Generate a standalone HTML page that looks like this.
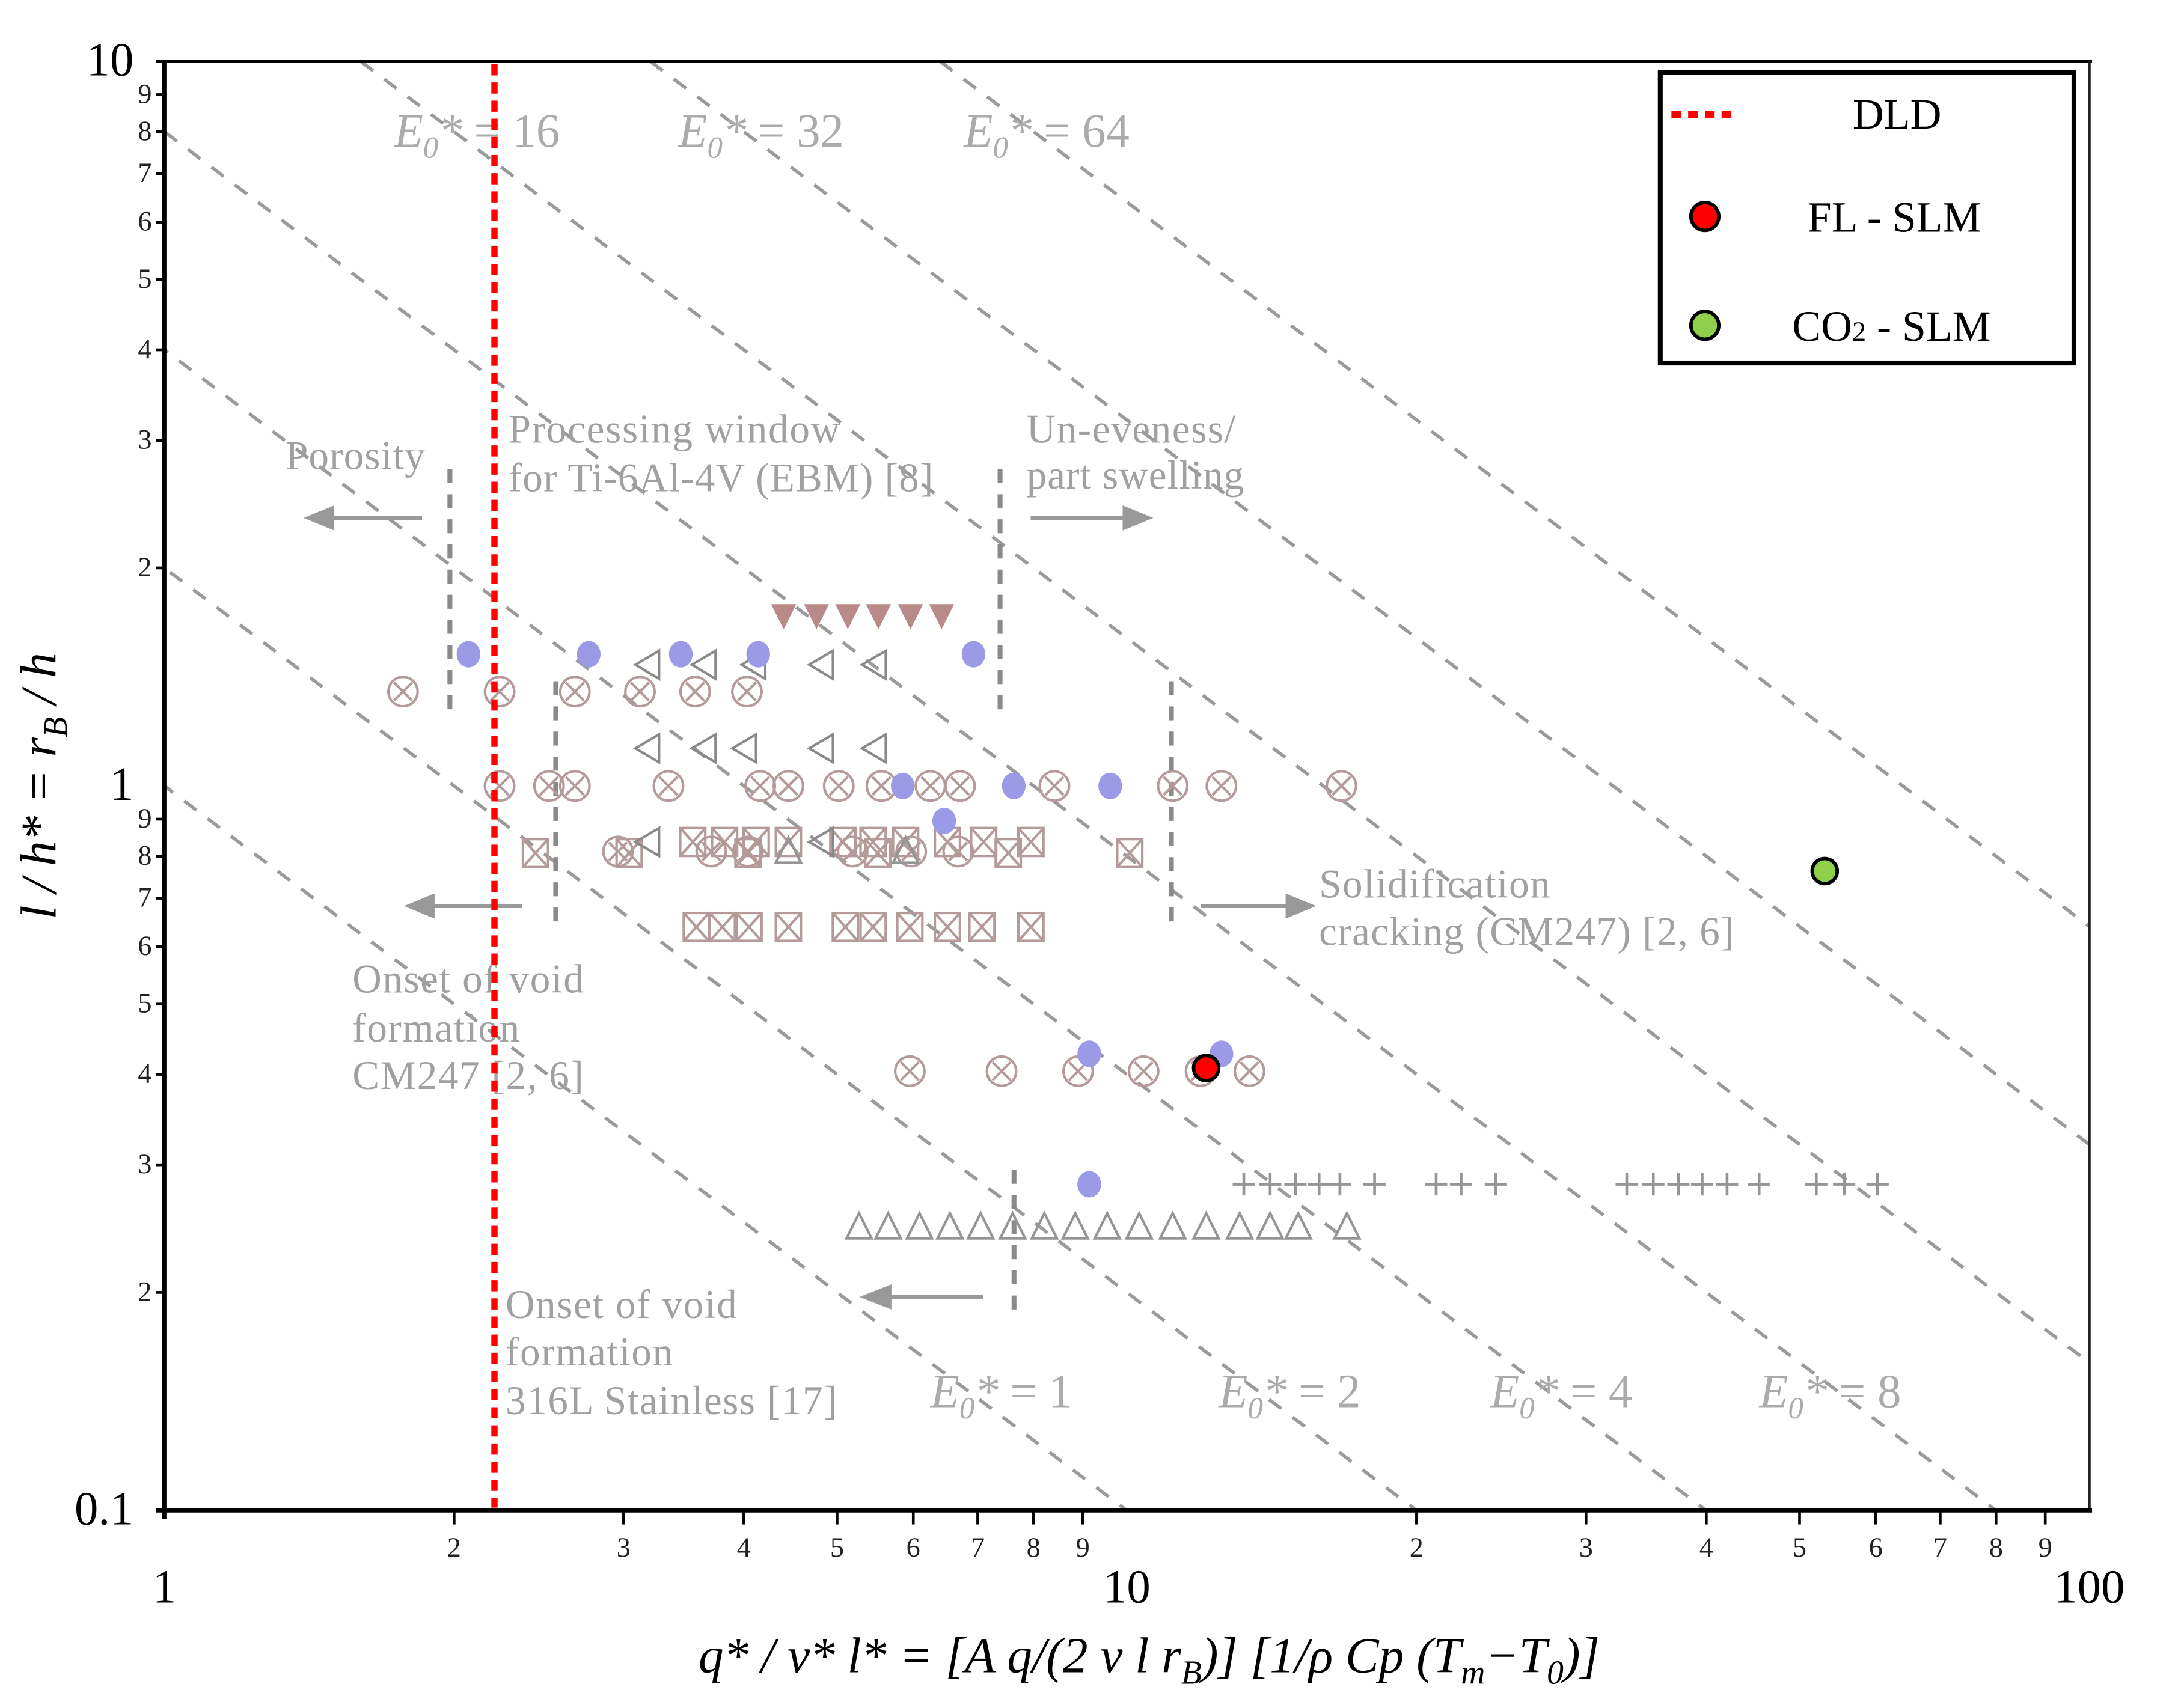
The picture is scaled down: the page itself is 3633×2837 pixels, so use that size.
<!DOCTYPE html>
<html><head><meta charset="utf-8"><style>
html,body{margin:0;padding:0;background:#fff;overflow:hidden;width:3633px;height:2837px;}
svg{display:block;}
</style></head><body>
<svg id="chart" xmlns="http://www.w3.org/2000/svg" width="3633" height="2837" viewBox="0 1.95 1568 1221.4" preserveAspectRatio="none" font-family="Liberation Serif, serif">
<rect x="0" y="2" width="1568" height="1221" fill="#fff"/>
<defs><clipPath id="plotclip"><rect x="118" y="46" width="1382" height="1038"/></clipPath></defs>
<g id="iso" clip-path="url(#plotclip)"></g>
<g id="annot" fill="#a0a0a0" font-size="29">
<text x="205" y="338" textLength="100">Porosity</text>
<text x="365" y="319" textLength="238">Processing window</text>
<text x="365" y="354" textLength="305">for Ti-6Al-4V (EBM) [8]</text>
<text x="737" y="319" textLength="150">Un-eveness/</text>
<text x="737" y="352" textLength="156">part swelling</text>
<text x="947" y="645" textLength="166">Solidification</text>
<text x="947" y="679" textLength="298">cracking (CM247) [2, 6]</text>
<text x="253" y="713" textLength="166">Onset of void</text>
<text x="253" y="748" textLength="120">formation</text>
<text x="253" y="782" textLength="166">CM247 [2, 6]</text>
<text x="363" y="946" textLength="166">Onset of void</text>
<text x="363" y="980" textLength="120">formation</text>
<text x="363" y="1015" textLength="238">316L Stainless [17]</text>
<g stroke="#8a8a8a" stroke-width="3.5" stroke-dasharray="10 8">
<line x1="323" y1="338" x2="323" y2="512"/><line x1="399" y1="490" x2="399" y2="665"/>
<line x1="718" y1="338" x2="718" y2="512"/><line x1="841" y1="490" x2="841" y2="665"/>
<line x1="728" y1="840" x2="728" y2="945"/>
</g>
<g stroke="#999" stroke-width="3" fill="#999">
<line x1="303" y1="373" x2="235" y2="373"/><polygon points="218,373 240,364 240,382" stroke="none"/>
<line x1="740" y1="373" x2="810" y2="373"/><polygon points="828,373 806,364 806,382" stroke="none"/>
<line x1="375" y1="651" x2="305" y2="651"/><polygon points="290,651 312,642 312,660" stroke="none"/>
<line x1="862" y1="651" x2="928" y2="651"/><polygon points="945,651 923,642 923,660" stroke="none"/>
<line x1="706" y1="931" x2="635" y2="931"/><polygon points="617,931 640,922 640,940" stroke="none"/>
</g>
</g>
<g id="elabels" fill="#ababab" font-size="34"></g>
<g id="marks"></g>
<line id="dld" x1="355" y1="48" x2="355" y2="1082" stroke="#ff0000" stroke-width="4.5" stroke-dasharray="8 5"/>
<g id="axes"></g>
<g id="legend">
<rect x="1192" y="54" width="297" height="208" fill="#fff" stroke="#000" stroke-width="3.5"/>
<line x1="1200" y1="84" x2="1246" y2="84" stroke="#ff0000" stroke-width="5" stroke-dasharray="7 5"/>
<text x="1362" y="94" font-size="31" text-anchor="middle">DLD</text>
<circle cx="1224" cy="157" r="10" fill="#ff0000" stroke="#000" stroke-width="2.5"/>
<text x="1360" y="168" font-size="31" text-anchor="middle">FL - SLM</text>
<circle cx="1224" cy="235" r="10" fill="#8fcf4a" stroke="#000" stroke-width="2.5"/>
<text x="1358" y="246" font-size="31" text-anchor="middle">CO<tspan font-size="20">2</tspan> - SLM</text>
</g>
<text x="40" y="565" font-size="36" font-style="italic" text-anchor="middle" transform="rotate(-90 40 565)">l / h* = r<tspan font-size="24" dy="8">B</tspan><tspan dy="-8"> / h</tspan></text>
<text x="825" y="1200" font-size="36" font-style="italic" text-anchor="middle">q* / v* l* = [A q/(2 v l r<tspan font-size="24" dy="8">B</tspan><tspan dy="-8">)] [1/ρ Cp (T</tspan><tspan font-size="24" dy="8">m</tspan><tspan dy="-8">−T</tspan><tspan font-size="24" dy="8">0</tspan><tspan dy="-8">)]</tspan></text>
</svg>
<script>
var isoC = [1, 2, 4, 8, 16, 32, 64];
var eLabelVals = ["16", "32", "64", "1", "2", "4", "8"];
var blueX = [2.07, 2.76, 3.44, 4.14, 6.93, 5.85, 7.63, 9.61, 6.46, 9.14, 12.54, 9.14];
var blueY = [1.52, 1.52, 1.52, 1.52, 1.52, 1.0, 1.0, 1.0, 0.895, 0.427, 0.427, 0.282];
var downTriX = [4.40, 4.76, 5.13, 5.52, 5.96, 6.42];
var downTriY = [1.72, 1.72, 1.72, 1.72, 1.72, 1.72];
var otimesX = [1.77, 2.23, 2.67, 3.12, 3.56, 4.03, 2.23, 2.51, 2.67, 3.34, 4.16, 4.45, 5.02, 5.56, 6.25, 6.71, 8.41, 11.16, 12.54, 16.71, 2.96, 3.70, 4.04, 5.19, 5.97, 6.68, 5.95, 7.41, 8.90, 10.41, 11.93, 13.41];
var otimesY = [1.35, 1.35, 1.35, 1.35, 1.35, 1.35, 1.0, 1.0, 1.0, 1.0, 1.0, 1.0, 1.0, 1.0, 1.0, 1.0, 1.0, 1.0, 1.0, 1.0, 0.812, 0.812, 0.812, 0.812, 0.812, 0.812, 0.404, 0.404, 0.404, 0.404, 0.404, 0.404];
var boxX = [3.54, 3.82, 4.12, 4.45, 5.07, 5.45, 5.89, 6.51, 7.10, 7.95, 2.43, 3.04, 4.04, 5.51, 7.53, 10.07, 3.57, 3.80, 4.05, 4.45, 5.10, 5.45, 5.95, 6.51, 7.07, 7.95];
var boxY = [0.837, 0.837, 0.837, 0.837, 0.837, 0.837, 0.837, 0.837, 0.837, 0.837, 0.808, 0.808, 0.808, 0.808, 0.808, 0.808, 0.639, 0.639, 0.639, 0.639, 0.639, 0.639, 0.639, 0.639, 0.639, 0.639];
var leftTriX = [3.18, 3.64, 4.10, 4.82, 5.47, 3.18, 3.64, 4.01, 4.82, 5.47, 3.18, 4.82];
var leftTriY = [1.47, 1.47, 1.47, 1.47, 1.47, 1.127, 1.127, 1.127, 1.127, 1.127, 0.837, 0.837];
var upTriX = [5.27, 5.65, 6.09, 6.55, 7.05, 7.61, 8.21, 8.84, 9.54, 10.30, 11.16, 12.09, 13.10, 14.09, 15.07, 16.93, 4.45, 5.89];
var upTriY = [0.246, 0.246, 0.246, 0.246, 0.246, 0.246, 0.246, 0.246, 0.246, 0.246, 0.246, 0.246, 0.246, 0.246, 0.246, 0.246, 0.812, 0.812];
var plusX = [13.23, 14.09, 14.97, 15.84, 16.65, 18.09, 20.96, 22.25, 24.18, 33.07, 35.24, 37.42, 39.61, 42.04, 45.39, 52.04, 55.63, 60.26];
var plusY = [0.282, 0.282, 0.282, 0.282, 0.282, 0.282, 0.282, 0.282, 0.282, 0.282, 0.282, 0.282, 0.282, 0.282, 0.282, 0.282, 0.282, 0.282];
var flX = [12.09];
var flY = [0.408];
var co2X = [53.1];
var co2Y = [0.763];
var xMajorTicks = [1, 10, 100];
var xMajorLabels = ["1", "10", "100"];
var yMajorTicks = [0.1, 1, 10];
var yMajorLabels = ["0.1", "1", "10"];
var minorDigits = [2, 3, 4, 5, 6, 7, 8, 9];

var NS = "http://www.w3.org/2000/svg";
function xs(v){ return 118 + 691 * Math.log10(v); }
function ys(v){ return 565 - 519 * Math.log10(v); }
function mk(tag, attrs, parent){ var e = document.createElementNS(NS, tag); for (var k in attrs) e.setAttribute(k, attrs[k]); parent.appendChild(e); return e; }

var iso = document.getElementById('iso');
isoC.forEach(function(c){
  var l = mk('line', {x1: xs(c/10), y1: ys(10), x2: xs(100), y2: ys(c/100), stroke: '#9a9a9a', 'stroke-width': 2.4, 'stroke-dasharray': '11 10'}, iso);
  
  
});
var el = document.getElementById('elabels');
var ePos = [[283,107],[487,107],[692,107],[668,1010],[875,1010],[1070,1010],[1263,1010]];
eLabelVals.forEach(function(v, i){
  var t = mk('text', {x: ePos[i][0], y: ePos[i][1]}, el);
  t.innerHTML = '<tspan font-style="italic">E</tspan><tspan font-size="22" dy="8" font-style="italic">0</tspan><tspan dy="-8" font-style="italic">*</tspan><tspan> = ' + v + '</tspan>';
  
  
});

var m = document.getElementById('marks');
function otimes(x, y){ var g = mk('g', {stroke: '#b59a9a', 'stroke-width': 1.8, fill: 'none'}, m);
  mk('circle', {cx: x, cy: y, r: 10.5}, g); var d = 6.5;
  mk('path', {d: 'M'+(x-d)+' '+(y-d)+'L'+(x+d)+' '+(y+d)+'M'+(x+d)+' '+(y-d)+'L'+(x-d)+' '+(y+d)}, g); return g; }
function boxx(x, y){ var g = mk('g', {stroke: '#b59a9a', 'stroke-width': 1.8, fill: 'none'}, m);
  mk('rect', {x: x-9, y: y-10, width: 18, height: 20}, g);
  mk('path', {d: 'M'+(x-9)+' '+(y-10)+'L'+(x+9)+' '+(y+10)+'M'+(x+9)+' '+(y-10)+'L'+(x-9)+' '+(y+10)}, g); return g; }
otimesX.forEach(function(v, i){ var g = otimes(xs(v), ys(otimesY[i]));
  
   });
boxX.forEach(function(v, i){ var g = boxx(xs(v), ys(boxY[i]));
  
   });
leftTriX.forEach(function(v, i){ var x = xs(v), y = ys(leftTriY[i]);
  var p = mk('polygon', {points: (x-9)+','+y+' '+(x+8)+','+(y-10)+' '+(x+8)+','+(y+10), fill: 'none', stroke: '#8a8a8a', 'stroke-width': 1.8}, m);
  
   });
upTriX.forEach(function(v, i){ var x = xs(v), y = ys(upTriY[i]);
  var p = mk('polygon', {points: x+','+(y-10)+' '+(x+9)+','+(y+8)+' '+(x-9)+','+(y+8), fill: 'none', stroke: '#959595', 'stroke-width': 1.8}, m);
  
   });
plusX.forEach(function(v, i){ var x = xs(v), y = ys(plusY[i]);
  var p = mk('path', {d: 'M'+(x-8)+' '+y+'L'+(x+8)+' '+y+'M'+x+' '+(y-8)+'L'+x+' '+(y+8), stroke: '#959595', 'stroke-width': 2}, m);
  
   });
downTriX.forEach(function(v, i){ var x = xs(v), y = ys(downTriY[i]);
  var p = mk('polygon', {points: (x-9)+','+(y-8)+' '+(x+9)+','+(y-8)+' '+x+','+(y+10), fill: '#b98a8a'}, m);
  
   });
blueX.forEach(function(v, i){
  var c = mk('ellipse', {cx: xs(v), cy: ys(blueY[i]), rx: 8.5, ry: 9.5, fill: '#9a9ae6'}, m);
  
   });
flX.forEach(function(v, i){
  var c = mk('circle', {cx: xs(v), cy: ys(flY[i]), r: 9, fill: '#ff0000', stroke: '#000', 'stroke-width': 2.5}, m);
  
   });
co2X.forEach(function(v, i){
  var c = mk('circle', {cx: xs(v), cy: ys(co2Y[i]), r: 9, fill: '#8fcf4a', stroke: '#000', 'stroke-width': 2.5}, m);
  
   });

var ax = document.getElementById('axes');
var topFrame = mk('line', {x1: 112, y1: 46, x2: 1502, y2: 46, stroke: '#000', 'stroke-width': 2}, ax);


var rightFrame = mk('line', {x1: 1500, y1: 46, x2: 1500, y2: 1084, stroke: '#222', 'stroke-width': 2}, ax);


var yAxisLine = mk('line', {x1: 118, y1: 46, x2: 118, y2: 1090, stroke: '#000', 'stroke-width': 3}, ax);


var xAxisLine = mk('line', {x1: 112, y1: 1084, x2: 1502, y2: 1084, stroke: '#000', 'stroke-width': 3}, ax);


xMajorTicks.forEach(function(v, i){
  var t = mk('text', {x: xs(v), y: 1150, 'font-size': 34, 'text-anchor': 'middle'}, ax); t.textContent = xMajorLabels[i];
  
  
});
yMajorTicks.forEach(function(v, i){
  var t = mk('text', {x: 96, y: ys(v) + 10, 'font-size': 34, 'text-anchor': 'end'}, ax); t.textContent = yMajorLabels[i];
  
  
});
[1, 10].forEach(function(dec){
  minorDigits.forEach(function(d){
    var xv = xs(d*dec);
    var tk = mk('line', {x1: xv, y1: 1084, x2: xv, y2: 1094, stroke: '#000', 'stroke-width': 2}, ax);
    
    
    var t = mk('text', {x: xv, y: 1117, 'font-size': 20, 'text-anchor': 'middle', fill: '#222'}, ax); t.textContent = d;
    
    
  });
});
[0.1, 1].forEach(function(dec){
  minorDigits.forEach(function(d){
    var yv = ys(d*dec);
    var tk = mk('line', {x1: 112, y1: yv, x2: 118, y2: yv, stroke: '#000', 'stroke-width': 2}, ax);
    
    
    var t = mk('text', {x: 109, y: yv + 6, 'font-size': 20, 'text-anchor': 'end', fill: '#222'}, ax); t.textContent = d;
    
    
  });
});
</script>
</body></html>
